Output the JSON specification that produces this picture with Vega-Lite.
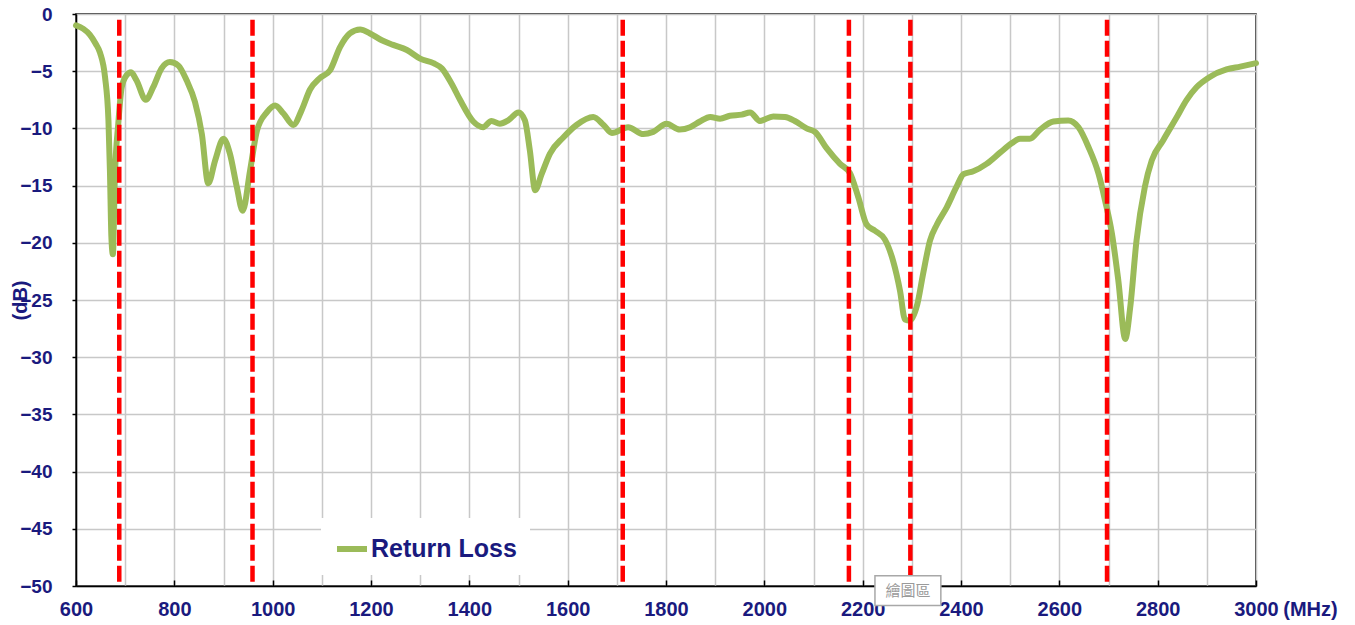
{
  "$schema": "https://vega.github.io/schema/vega-lite/v6.json",
  "width": 1180,
  "height": 572,
  "autosize": {"type": "none"},
  "padding": {"left": 76, "top": 14, "right": 99, "bottom": 39},
  "background": "white",
  "config": {
    "view": {"stroke": "#000000", "strokeWidth": 1.5},
    "axis": {
      "domainColor": "#000000",
      "domainWidth": 1.5,
      "gridColor": "#C8C8C8",
      "gridWidth": 1.5,
      "tickColor": "#000000",
      "tickWidth": 1.5,
      "labelFont": "Liberation Sans",
      "labelFontWeight": "bold",
      "labelColor": "#1A1A7E",
      "titleFont": "Liberation Sans",
      "titleFontWeight": "bold",
      "titleColor": "#1A1A7E"
    }
  },
  "datasets": {
    "rl": [
      {"f": 600, "db": -1.0}, {"f": 615, "db": -1.3}, {"f": 628, "db": -1.8}, {"f": 640, "db": -2.6},
      {"f": 649, "db": -3.4}, {"f": 659, "db": -5.5}, {"f": 666, "db": -9.3}, {"f": 669, "db": -13.7},
      {"f": 672, "db": -19.5}, {"f": 675, "db": -21.0}, {"f": 679, "db": -14.3}, {"f": 686, "db": -9.6},
      {"f": 693, "db": -6.4}, {"f": 703, "db": -5.35}, {"f": 712, "db": -5.1}, {"f": 723, "db": -5.8},
      {"f": 742, "db": -7.5}, {"f": 757, "db": -6.4}, {"f": 774, "db": -4.75}, {"f": 791, "db": -4.2},
      {"f": 808, "db": -4.5}, {"f": 825, "db": -5.8}, {"f": 842, "db": -7.7}, {"f": 856, "db": -10.5},
      {"f": 869, "db": -14.8}, {"f": 883, "db": -12.8}, {"f": 900, "db": -10.9}, {"f": 913, "db": -12.2},
      {"f": 927, "db": -15.1}, {"f": 939, "db": -17.2}, {"f": 954, "db": -13.7}, {"f": 968, "db": -10.2},
      {"f": 988, "db": -8.6}, {"f": 1005, "db": -8.0}, {"f": 1022, "db": -8.7}, {"f": 1042, "db": -9.7},
      {"f": 1059, "db": -8.4}, {"f": 1076, "db": -6.6}, {"f": 1096, "db": -5.6}, {"f": 1117, "db": -4.9},
      {"f": 1137, "db": -2.9}, {"f": 1157, "db": -1.7}, {"f": 1178, "db": -1.35}, {"f": 1198, "db": -1.7},
      {"f": 1222, "db": -2.3}, {"f": 1245, "db": -2.7}, {"f": 1273, "db": -3.15}, {"f": 1300, "db": -3.9},
      {"f": 1327, "db": -4.3}, {"f": 1344, "db": -4.75}, {"f": 1364, "db": -6.1}, {"f": 1381, "db": -7.5},
      {"f": 1408, "db": -9.4}, {"f": 1428, "db": -9.9}, {"f": 1445, "db": -9.35}, {"f": 1462, "db": -9.6},
      {"f": 1479, "db": -9.3}, {"f": 1500, "db": -8.6}, {"f": 1513, "db": -9.3}, {"f": 1523, "db": -11.9},
      {"f": 1534, "db": -15.4}, {"f": 1547, "db": -14.0}, {"f": 1564, "db": -12.2}, {"f": 1591, "db": -10.8},
      {"f": 1618, "db": -9.7}, {"f": 1652, "db": -9.0}, {"f": 1673, "db": -9.7}, {"f": 1690, "db": -10.4},
      {"f": 1723, "db": -9.9}, {"f": 1754, "db": -10.5}, {"f": 1774, "db": -10.3}, {"f": 1801, "db": -9.6},
      {"f": 1828, "db": -10.1}, {"f": 1849, "db": -9.9}, {"f": 1869, "db": -9.4}, {"f": 1890, "db": -9.0},
      {"f": 1910, "db": -9.15}, {"f": 1930, "db": -8.9}, {"f": 1954, "db": -8.8}, {"f": 1971, "db": -8.6},
      {"f": 1991, "db": -9.35}, {"f": 2018, "db": -8.95}, {"f": 2042, "db": -9.0}, {"f": 2062, "db": -9.35},
      {"f": 2086, "db": -10.0}, {"f": 2103, "db": -10.3}, {"f": 2127, "db": -11.75}, {"f": 2154, "db": -13.1},
      {"f": 2174, "db": -13.9}, {"f": 2191, "db": -16.0}, {"f": 2208, "db": -18.4}, {"f": 2225, "db": -18.95},
      {"f": 2245, "db": -19.7}, {"f": 2262, "db": -21.6}, {"f": 2276, "db": -24.2}, {"f": 2286, "db": -26.7},
      {"f": 2296, "db": -26.8}, {"f": 2311, "db": -25.4}, {"f": 2323, "db": -22.7}, {"f": 2337, "db": -19.8},
      {"f": 2351, "db": -18.4}, {"f": 2371, "db": -16.9}, {"f": 2391, "db": -15.1}, {"f": 2405, "db": -14.0},
      {"f": 2425, "db": -13.75}, {"f": 2452, "db": -13.1}, {"f": 2480, "db": -12.1}, {"f": 2503, "db": -11.3},
      {"f": 2520, "db": -10.9}, {"f": 2540, "db": -10.9}, {"f": 2561, "db": -10.1}, {"f": 2588, "db": -9.4},
      {"f": 2618, "db": -9.3}, {"f": 2639, "db": -9.9}, {"f": 2659, "db": -11.6}, {"f": 2680, "db": -14.0},
      {"f": 2693, "db": -16.3}, {"f": 2707, "db": -19.2}, {"f": 2720, "db": -23.3}, {"f": 2734, "db": -28.4},
      {"f": 2744, "db": -25.7}, {"f": 2757, "db": -19.8}, {"f": 2774, "db": -15.1}, {"f": 2788, "db": -12.8},
      {"f": 2811, "db": -11.05}, {"f": 2839, "db": -9.0}, {"f": 2859, "db": -7.5}, {"f": 2879, "db": -6.4},
      {"f": 2906, "db": -5.5}, {"f": 2940, "db": -4.85}, {"f": 2968, "db": -4.6}, {"f": 3000, "db": -4.3}
    ],
    "markers": [{"f": 688}, {"f": 959}, {"f": 1712}, {"f": 2172}, {"f": 2297}, {"f": 2697}],
    "tip": [{"x1": 2225, "x2": 2359, "y1": -49.1, "y2": -51.7, "xm": 2292, "ym": -50.4, "t": "繪圖區"}]
  },
  "layer": [
    {
      "data": {"name": "rl"},
      "mark": {"type": "line", "interpolate": "monotone", "strokeWidth": 6, "strokeCap": "round", "strokeJoin": "round"},
      "encoding": {
        "x": {
          "field": "f", "type": "quantitative",
          "scale": {"domain": [600, 3000], "nice": false, "zero": false},
          "axis": {
            "title": "(MHz)",
            "values": [600,650,700,750,800,850,900,950,1000,1050,1100,1150,1200,1250,1300,1350,1400,1450,1500,1550,1600,1650,1700,1750,1800,1850,1900,1950,2000,2050,2100,2150,2200,2250,2300,2350,2400,2450,2500,2550,2600,2650,2700,2750,2800,2850,2900,2950,3000],
            "format": "d",
            "labelExpr": "datum.value % 200 === 0 ? datum.label : ''",
            "labelFontSize": 20,
            "labelPadding": 19,
            "labelFlush": false,
            "tickSize": -6,
            "tickOpacity": {"condition": {"test": "datum.value % 200 === 0", "value": 1}, "value": 0},
            "titleFontSize": 20,
            "titleX": 1234,
            "titleY": 23,
            "titleAlign": "center",
            "titleBaseline": "middle",
            "titleAnchor": null
          }
        },
        "y": {
          "field": "db", "type": "quantitative",
          "scale": {"domain": [-50, 0], "nice": false, "zero": false},
          "axis": {
            "title": "(dB)",
            "values": [-50,-45,-40,-35,-30,-25,-20,-15,-10,-5,0],
            "format": "d",
            "labelFontSize": 19,
            "labelPadding": 20,
            "tickSize": 4,
            "titleFontSize": 20,
            "titleAngle": -90,
            "titleX": -56,
            "titleY": 286,
            "titleAlign": "center",
            "titleBaseline": "middle",
            "titleAnchor": null
          }
        },
        "color": {
          "datum": "Return Loss",
          "type": "nominal",
          "scale": {"range": ["#9BBB59"]},
          "legend": {
            "title": null,
            "orient": "none",
            "legendX": 245,
            "legendY": 504,
            "fillColor": "#FFFFFF",
            "padding": 13,
            "symbolType": "stroke",
            "symbolStrokeWidth": 6,
            "symbolSize": 900,
            "labelOffset": 1,
            "labelFont": "Liberation Sans",
            "labelFontWeight": "bold",
            "labelFontSize": 25,
            "labelColor": "#1A1A7E"
          }
        }
      }
    },
    {
      "data": {"name": "markers"},
      "mark": {"type": "rule", "color": "#FF0000", "strokeWidth": 4.5, "strokeDash": [16, 5]},
      "encoding": {
        "x": {"field": "f", "type": "quantitative"},
        "y": {"datum": -0.5},
        "y2": {"datum": -50}
      }
    },
    {
      "data": {"name": "tip"},
      "mark": {"type": "rect", "fill": "#FFFFFF", "stroke": "#A8A8A8", "strokeWidth": 1.5},
      "encoding": {
        "x": {"field": "x1", "type": "quantitative"},
        "x2": {"field": "x2"},
        "y": {"field": "y1", "type": "quantitative"},
        "y2": {"field": "y2"}
      }
    },
    {
      "data": {"name": "tip"},
      "mark": {"type": "text", "font": "Noto Sans CJK TC", "fontSize": 15, "color": "#9A9A9A", "align": "center", "baseline": "middle"},
      "encoding": {
        "x": {"field": "xm", "type": "quantitative"},
        "y": {"field": "ym", "type": "quantitative"},
        "text": {"field": "t"}
      }
    }
  ]
}
